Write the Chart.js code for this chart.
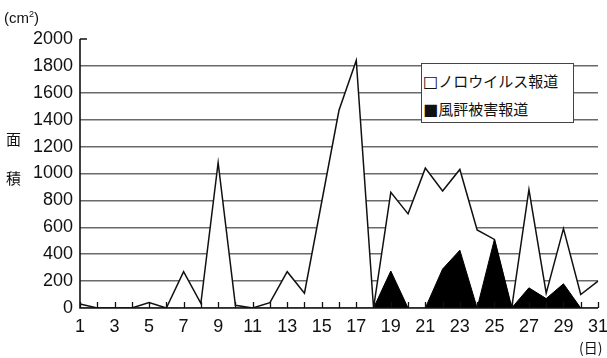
<!DOCTYPE html>
<html>
<head>
<meta charset="utf-8">
<script src="https://cdn.jsdelivr.net/npm/chart.js@4.4.1/dist/chart.umd.min.js"></script>
<style>
  html, body { margin: 0; padding: 0; background: #fff; }
  #wrap { position: relative; width: 607px; height: 358px; }
  .lbl { position: absolute; font-family: "Noto Sans CJK JP", "Liberation Sans", sans-serif; color: #111; line-height: 1; white-space: nowrap; }
  #legend { position: absolute; left: 421px; top: 63px; width: 153px; height: 60px; border: 1px solid #444; background: #fff; box-sizing: border-box; }
  #legend div { position: absolute; left: 1px; font-family: "Noto Sans CJK JP", sans-serif; font-size: 15px; line-height: 1; color: #111; white-space: nowrap; }
  #legend .sym { font-family: "DejaVu Sans", sans-serif; font-size: 16px; }
</style>
</head>
<body>
<div id="wrap">
  <canvas id="areaChart" width="607" height="358"></canvas>
  <div class="lbl" style="left:4px; top:10px; font-family:'Liberation Sans',sans-serif; font-size:15px;">(cm<sup style="font-size:9px;">2</sup>)</div>
  <div class="lbl" style="left:6px; top:131px; font-size:15px;">面</div>
  <div class="lbl" style="left:6px; top:170px; font-size:15px;">積</div>
  <div class="lbl" style="left:579px; top:340px; font-size:14px;">(日)</div>
  <div id="legend">
    <div style="top:9px;"><span class="sym">□</span><span id="lg1"></span></div>
    <div style="top:37px;"><span class="sym">■</span><span id="lg2"></span></div>
  </div>
</div>
<script>
// 日付 (1〜31日)
const days = [];
for (let d = 1; d <= 31; d++) days.push(d);

// ノロウイルス報道の面積 (cm2)
const noroArea = [30, 0, 0, 0, 40, 0, 270, 35, 1080, 20, 0, 40, 270, 110, 790, 1470, 1840, 0,
  860, 700, 1040, 870, 1030, 580, 510, 0, 880, 110, 590, 100, 200];

// 風評被害報道の面積 (cm2)
const fuhyoArea = [0, 0, 0, 0, 0, 0, 0, 0, 0, 0, 0, 0, 0, 0, 0, 0, 0, 0,
  275, 0, 0, 290, 430, 0, 510, 0, 150, 70, 180, 0, 0];

const seriesLabels = ["ノロウイルス報道", "風評被害報道"];
const yMax = 2000;
const yStep = 200;

document.getElementById("lg1").textContent = seriesLabels[0];
document.getElementById("lg2").textContent = seriesLabels[1];

const numFont = { family: "'Liberation Sans', Arial, sans-serif", size: 18 };

// 内向きの目盛り線（x軸の各日と y軸の最上段）
const innerTicks = {
  id: "innerTicks",
  afterDatasetsDraw(chart) {
    const { ctx, scales } = chart;
    const xs = scales.x, ys = scales.y;
    const base = ys.getPixelForValue(0);
    ctx.save();
    ctx.strokeStyle = "#111";
    ctx.lineWidth = 1.3;
    ctx.beginPath();
    days.forEach((d, i) => {
      const px = Math.round(xs.getPixelForValue(i)) + 0.5;
      ctx.moveTo(px, base);
      ctx.lineTo(px, base - 6);
    });
    const top = ys.getPixelForValue(yMax);
    ctx.moveTo(xs.left, top);
    ctx.lineTo(xs.left + 7, top);
    ctx.stroke();
    // 軸線
    ctx.lineWidth = 1.6;
    ctx.beginPath();
    ctx.moveTo(xs.left, top);
    ctx.lineTo(xs.left, base);
    ctx.lineTo(xs.right, base);
    ctx.stroke();
    ctx.restore();
  }
};

const ctx = document.getElementById("areaChart").getContext("2d");
new Chart(ctx, {
  type: "line",
  data: {
    labels: days,
    datasets: [
      {
        label: seriesLabels[0],
        data: noroArea,
        fill: "origin",
        backgroundColor: "#ffffff",
        borderColor: "#111111",
        borderWidth: 1.5,
        pointRadius: 0,
        tension: 0,
        order: 2,
      },
      {
        label: seriesLabels[1],
        data: fuhyoArea,
        fill: "origin",
        backgroundColor: "#000000",
        borderColor: "#000000",
        borderWidth: 1,
        pointRadius: 0,
        tension: 0,
        order: 1,
      },
    ],
  },
  options: {
    responsive: false,
    animation: false,
    layout: { padding: { top: 39, right: 9, left: 0, bottom: 0 } },
    plugins: {
      legend: { display: false },
      tooltip: { enabled: false },
    },
    scales: {
      x: {
        offset: false,
        border: { display: false },
        grid: { display: false, drawTicks: false },
        ticks: {
          autoSkip: false,
          maxRotation: 0,
          padding: 8,
          color: "#111",
          font: numFont,
          callback: (v, i) => (days[i] % 2 === 1 ? String(days[i]) : ""),
        },
        afterFit: (s) => {
          s.height = 50;
          s.paddingLeft = 0;
          s.paddingRight = 0;
        },
      },
      y: {
        min: 0,
        max: yMax,
        border: { display: false },
        grid: {
          drawTicks: false,
          lineWidth: 1.5,
          color: (c) => (c.tick.value === 0 || c.tick.value === yMax ? "rgba(0,0,0,0)" : "#6a6a6a"),
        },
        ticks: {
          stepSize: yStep,
          padding: 7,
          color: "#111",
          font: numFont,
          callback: (v) => String(v),
        },
        afterFit: (s) => {
          s.width = 80;
          s.paddingTop = 0;
          s.paddingBottom = 0;
        },
      },
    },
  },
  plugins: [innerTicks],
});
</script>
</body>
</html>
